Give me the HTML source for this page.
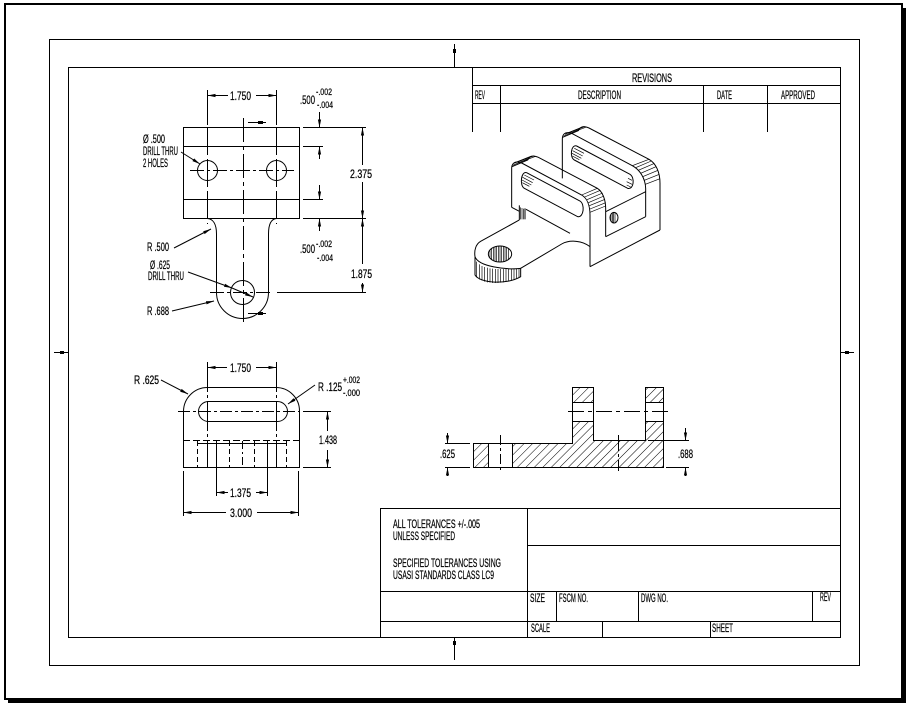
<!DOCTYPE html>
<html><head><meta charset="utf-8"><style>
html,body{margin:0;padding:0;background:#fff;}
svg{display:block;}
text{font-family:"Liberation Sans Narrow","Liberation Sans",sans-serif;font-size:12px;fill:#000;stroke:#000;stroke-width:0.25;}
.s{font-size:9.5px;}
</style></head><body>
<svg width="908" height="704" viewBox="0 0 908 704" xmlns="http://www.w3.org/2000/svg">
<defs>
<marker id="ar" markerUnits="userSpaceOnUse" markerWidth="8" markerHeight="4" refX="8" refY="2" orient="auto" viewBox="0 0 8 4"><path d="M0,0.4 L8,2 L0,3.6 Z" fill="#000"/></marker>
<pattern id="h" patternUnits="userSpaceOnUse" width="6" height="6" patternTransform="rotate(45)"><line x1="0" y1="0" x2="0" y2="6" stroke="#000" stroke-width="1"/></pattern>
<clipPath id="lh"><ellipse cx="120" cy="402" rx="34" ry="23"/></clipPath>
</defs>
<rect width="908" height="704" fill="#fff"/>
<!-- frames -->
<rect x="5" y="4" width="897" height="695" fill="none" stroke="#000" stroke-width="2"/>
<rect x="902" y="8" width="4" height="695" fill="#000"/>
<rect x="8" y="699" width="898" height="4" fill="#000"/>
<g fill="none" stroke="#000" stroke-width="1">
<rect x="49.5" y="39.5" width="810" height="626"/>
<rect x="68.5" y="67.5" width="772" height="570"/>
<line x1="454.5" y1="44" x2="454.5" y2="67"/>
<line x1="54" y1="352.5" x2="68" y2="352.5"/>
<line x1="840" y1="352.5" x2="854" y2="352.5"/>
<line x1="454.5" y1="637" x2="454.5" y2="660"/>
</g>
<g fill="#000">
<rect x="453" y="49" width="3" height="4"/><rect x="60" y="351" width="4" height="3"/>
<rect x="845" y="351" width="4" height="3"/><rect x="453" y="641" width="3" height="4"/>
</g>

<!-- revisions table -->
<g fill="none" stroke="#000" stroke-width="1">
<line x1="472.5" y1="67" x2="472.5" y2="132"/>
<line x1="472" y1="85.5" x2="840" y2="85.5"/>
<line x1="472" y1="103.5" x2="840" y2="103.5"/>
<line x1="500.5" y1="85" x2="500.5" y2="132"/>
<line x1="703.5" y1="85" x2="703.5" y2="132"/>
<line x1="767.5" y1="85" x2="767.5" y2="132"/>
</g>
<text x="632" y="82" textLength="40" lengthAdjust="spacingAndGlyphs">REVISIONS</text>
<text x="475" y="99" textLength="10" lengthAdjust="spacingAndGlyphs">REV</text>
<text x="578" y="99" textLength="43" lengthAdjust="spacingAndGlyphs">DESCRIPTION</text>
<text x="717" y="99" textLength="15" lengthAdjust="spacingAndGlyphs">DATE</text>
<text x="781" y="99" textLength="34" lengthAdjust="spacingAndGlyphs">APPROVED</text>

<!-- title block -->
<g fill="none" stroke="#000" stroke-width="1">
<line x1="380" y1="508.5" x2="840" y2="508.5"/>
<line x1="380.5" y1="508" x2="380.5" y2="637"/>
<line x1="527.5" y1="508" x2="527.5" y2="637"/>
<line x1="527" y1="545.5" x2="840" y2="545.5"/>
<line x1="380" y1="591.5" x2="840" y2="591.5"/>
<line x1="380" y1="621.5" x2="840" y2="621.5"/>
<line x1="556.5" y1="591" x2="556.5" y2="621"/>
<line x1="638.5" y1="591" x2="638.5" y2="621"/>
<line x1="812.5" y1="591" x2="812.5" y2="621"/>
<line x1="602.5" y1="621" x2="602.5" y2="637"/>
<line x1="710.5" y1="621" x2="710.5" y2="637"/>
</g>
<text x="393" y="528" textLength="87" lengthAdjust="spacingAndGlyphs">ALL TOLERANCES +/-.005</text>
<text x="393" y="540" textLength="62" lengthAdjust="spacingAndGlyphs">UNLESS SPECIFIED</text>
<text x="393" y="567" textLength="108" lengthAdjust="spacingAndGlyphs">SPECIFIED TOLERANCES USING</text>
<text x="393" y="579" textLength="101" lengthAdjust="spacingAndGlyphs">USASI STANDARDS CLASS LC9</text>
<text x="530" y="602" textLength="15" lengthAdjust="spacingAndGlyphs">SIZE</text>
<text x="559" y="602" textLength="29" lengthAdjust="spacingAndGlyphs">FSCM NO.</text>
<text x="641" y="602" textLength="27" lengthAdjust="spacingAndGlyphs">DWG NO.</text>
<text x="820" y="601" textLength="11" lengthAdjust="spacingAndGlyphs">REV</text>
<text x="531" y="632" textLength="19" lengthAdjust="spacingAndGlyphs">SCALE</text>
<text x="712" y="632" textLength="21" lengthAdjust="spacingAndGlyphs">SHEET</text>

<!-- TOP VIEW -->
<g fill="none" stroke="#000" stroke-width="1">
<rect x="183.5" y="127.5" width="116" height="91"/>
<line x1="183" y1="146.5" x2="299" y2="146.5"/>
<line x1="183" y1="199.5" x2="299" y2="199.5"/>
<circle cx="207.5" cy="170.5" r="10"/>
<circle cx="276.5" cy="170.5" r="10"/>
<line x1="190" y1="170.5" x2="294" y2="170.5" stroke-dasharray="14 3 3 3"/>
<line x1="207.5" y1="90" x2="207.5" y2="125"/>
<line x1="276.5" y1="90" x2="276.5" y2="125"/>
<line x1="207.5" y1="127" x2="207.5" y2="224" stroke-dasharray="28 4"/>
<line x1="276.5" y1="127" x2="276.5" y2="224" stroke-dasharray="28 4"/>
<line x1="243.5" y1="118" x2="243.5" y2="324" stroke-dasharray="24 4 4 4"/>
<path d="M207.5,218.5 C213,219 216.5,224 216.5,234 L216.5,292.5 A26,26 0 0 0 268.5,292.5 L268.5,234 C268.5,224 271,219 276.5,218.5"/>
<circle cx="242.5" cy="292.5" r="12"/>
<line x1="210" y1="292.5" x2="273" y2="292.5" stroke-dasharray="14 3 3 3"/>
<line x1="277" y1="292.5" x2="366" y2="292.5"/>
<line x1="303" y1="127.5" x2="366" y2="127.5"/>
<line x1="303" y1="218.5" x2="366" y2="218.5"/>
<line x1="303" y1="146.5" x2="323" y2="146.5"/>
<line x1="303" y1="199.5" x2="323" y2="199.5"/>
<line x1="248" y1="122.5" x2="266" y2="122.5"/>
<line x1="248" y1="313.5" x2="266" y2="313.5"/>
</g>
<g fill="none" stroke="#000" stroke-width="1" marker-end="url(#ar)">
<line x1="228" y1="95.5" x2="207.5" y2="95.5"/>
<line x1="256" y1="95.5" x2="276.5" y2="95.5"/>
<line x1="362.5" y1="165" x2="362.5" y2="127.5"/>
<line x1="362.5" y1="182" x2="362.5" y2="218.5"/>
<line x1="362.5" y1="264" x2="362.5" y2="218.5"/>
<line x1="362.5" y1="283" x2="362.5" y2="292.5"/>
<line x1="319.5" y1="112" x2="319.5" y2="127.5"/>
<line x1="319.5" y1="159" x2="319.5" y2="146.5"/>
<line x1="319.5" y1="185" x2="319.5" y2="199.5"/>
<line x1="319.5" y1="231" x2="319.5" y2="218.5"/>
<line x1="181" y1="152" x2="200" y2="164"/>
<line x1="174" y1="248" x2="211" y2="229"/>
<line x1="188" y1="272" x2="232" y2="288"/>
<line x1="232" y1="288" x2="253" y2="297"/>
<line x1="172" y1="311" x2="214" y2="301"/>
</g>
<g fill="#000"><rect x="258" y="121" width="5" height="3"/><rect x="258" y="312" width="5" height="3"/></g>
<text x="230" y="100" textLength="21" lengthAdjust="spacingAndGlyphs">1.750</text>
<text x="300" y="104" textLength="15" lengthAdjust="spacingAndGlyphs">.500</text>
<text class="s" x="316" y="95" textLength="16" lengthAdjust="spacingAndGlyphs">-.002</text>
<text class="s" x="317" y="108" textLength="16" lengthAdjust="spacingAndGlyphs">-.004</text>
<text x="300" y="253" textLength="15" lengthAdjust="spacingAndGlyphs">.500</text>
<text class="s" x="316" y="247" textLength="16" lengthAdjust="spacingAndGlyphs">-.002</text>
<text class="s" x="317" y="261" textLength="16" lengthAdjust="spacingAndGlyphs">-.004</text>
<text x="350" y="178" textLength="22" lengthAdjust="spacingAndGlyphs">2.375</text>
<text x="351" y="278" textLength="21" lengthAdjust="spacingAndGlyphs">1.875</text>
<text x="143" y="143" textLength="22" lengthAdjust="spacingAndGlyphs">Ø .500</text>
<text x="143" y="155" textLength="35" lengthAdjust="spacingAndGlyphs">DRILL THRU</text>
<text x="143" y="167" textLength="25" lengthAdjust="spacingAndGlyphs">2 HOLES</text>
<text x="147" y="251" textLength="22" lengthAdjust="spacingAndGlyphs">R .500</text>
<text x="150" y="269" textLength="20" lengthAdjust="spacingAndGlyphs">Ø .625</text>
<text x="148" y="280" textLength="36" lengthAdjust="spacingAndGlyphs">DRILL THRU</text>
<text x="147" y="315" textLength="22" lengthAdjust="spacingAndGlyphs">R .688</text>

<!-- FRONT VIEW -->
<g fill="none" stroke="#000" stroke-width="1">
<path d="M183.5,467.5 L183.5,411 A24,24 0 0 1 207.5,387.5 L276,387.5 A23.5,23.5 0 0 1 299.5,411 L299.5,467.5 Z"/>
<rect x="198.5" y="401.5" width="89" height="20" rx="10" ry="10"/>
<line x1="178" y1="411.5" x2="300" y2="411.5" stroke-dasharray="12 3 3 3"/>
<line x1="303" y1="411.5" x2="331" y2="411.5"/>
<line x1="183" y1="440.5" x2="300" y2="440.5" stroke-dasharray="7 3"/>
<line x1="197" y1="443.5" x2="287" y2="443.5"/>
<line x1="197.5" y1="441" x2="197.5" y2="467" stroke-dasharray="5 3"/>
<line x1="229.5" y1="441" x2="229.5" y2="467" stroke-dasharray="5 3"/>
<line x1="254.5" y1="441" x2="254.5" y2="467" stroke-dasharray="5 3"/>
<line x1="286.5" y1="441" x2="286.5" y2="467" stroke-dasharray="5 3"/>
<line x1="242.5" y1="441" x2="242.5" y2="467" stroke-dasharray="8 3 2 3"/>
<line x1="207.5" y1="362" x2="207.5" y2="467" stroke-dasharray="30 3 3 3"/>
<line x1="276.5" y1="362" x2="276.5" y2="467" stroke-dasharray="30 3 3 3"/>
<line x1="216.5" y1="441" x2="216.5" y2="496"/>
<line x1="267.5" y1="441" x2="267.5" y2="496"/>
<line x1="183.5" y1="471" x2="183.5" y2="516"/>
<line x1="298.5" y1="471" x2="298.5" y2="516"/>
<line x1="303" y1="467.5" x2="331" y2="467.5"/>
</g>
<g fill="none" stroke="#000" stroke-width="1" marker-end="url(#ar)">
<line x1="227" y1="367.5" x2="207.5" y2="367.5"/>
<line x1="256" y1="367.5" x2="276.5" y2="367.5"/>
<line x1="327.5" y1="431" x2="327.5" y2="411.5"/>
<line x1="327.5" y1="450" x2="327.5" y2="467.5"/>
<line x1="228" y1="492.5" x2="216.5" y2="492.5"/>
<line x1="256" y1="492.5" x2="267.5" y2="492.5"/>
<line x1="226" y1="512.5" x2="183.5" y2="512.5"/>
<line x1="257" y1="512.5" x2="298.5" y2="512.5"/>
<line x1="161" y1="380" x2="188" y2="394"/>
<line x1="315" y1="385" x2="288" y2="404"/>
</g>
<text x="230" y="372" textLength="21" lengthAdjust="spacingAndGlyphs">1.750</text>
<text x="134" y="384" textLength="25" lengthAdjust="spacingAndGlyphs">R .625</text>
<text x="318" y="391" textLength="24" lengthAdjust="spacingAndGlyphs">R .125</text>
<text class="s" x="343" y="383" textLength="17" lengthAdjust="spacingAndGlyphs">+.002</text>
<text class="s" x="343" y="396" textLength="17" lengthAdjust="spacingAndGlyphs">-.000</text>
<text x="319" y="444" textLength="18" lengthAdjust="spacingAndGlyphs">1.438</text>
<text x="230" y="497" textLength="21" lengthAdjust="spacingAndGlyphs">1.375</text>
<text x="230" y="517" textLength="22" lengthAdjust="spacingAndGlyphs">3.000</text>

<!-- SECTION VIEW -->
<path d="M473.5,443.5 L488.5,443.5 L488.5,467.5 L473.5,467.5 Z" fill="url(#h)" stroke="none"/>
<path d="M512.5,443.5 L572.5,443.5 L572.5,387.5 L593.5,387.5 L593.5,440.5 L645.5,440.5 L645.5,387.5 L663.5,387.5 L663.5,467.5 L512.5,467.5 Z" fill="url(#h)" stroke="none"/>
<rect x="572" y="402" width="22" height="20" fill="#fff"/>
<rect x="645" y="402" width="19" height="20" fill="#fff"/>
<g fill="none" stroke="#000" stroke-width="1">
<path d="M473.5,443.5 L572.5,443.5 L572.5,387.5 L593.5,387.5 L593.5,440.5 L645.5,440.5 L645.5,387.5 L663.5,387.5 L663.5,467.5 L473.5,467.5 Z"/>
<line x1="488.5" y1="443" x2="488.5" y2="467"/>
<line x1="512.5" y1="443" x2="512.5" y2="467"/>
<line x1="572" y1="402.5" x2="593" y2="402.5"/>
<line x1="572" y1="421.5" x2="593" y2="421.5"/>
<line x1="645" y1="402.5" x2="663" y2="402.5"/>
<line x1="645" y1="421.5" x2="663" y2="421.5"/>
<line x1="568" y1="411.5" x2="669" y2="411.5" stroke-dasharray="16 4 4 4"/>
<line x1="500.5" y1="435" x2="500.5" y2="473" stroke-dasharray="10 3 3 3"/>
<line x1="618.5" y1="435" x2="618.5" y2="471" stroke-dasharray="16 3 3 3"/>
<line x1="445" y1="443.5" x2="470" y2="443.5"/>
<line x1="445" y1="467.5" x2="470" y2="467.5"/>
<line x1="648" y1="440.5" x2="689" y2="440.5"/>
<line x1="666" y1="467.5" x2="689" y2="467.5"/>
</g>
<g fill="none" stroke="#000" stroke-width="1" marker-end="url(#ar)">
<line x1="447.5" y1="433" x2="447.5" y2="443.5"/>
<line x1="447.5" y1="476" x2="447.5" y2="467.5"/>
<line x1="685.5" y1="428" x2="685.5" y2="440.5"/>
<line x1="685.5" y1="476" x2="685.5" y2="467.5"/>
</g>
<text x="440" y="458" textLength="15" lengthAdjust="spacingAndGlyphs">.625</text>
<text x="678" y="458" textLength="15" lengthAdjust="spacingAndGlyphs">.688</text>

<!-- ISOMETRIC VIEW -->
<g transform="translate(460,120) scale(0.33333)" fill="none" stroke="#000" stroke-width="3">
<!-- back plate -->
<path d="M307,175 L307,57 C307,44 314,38 324,38 C328,38 332,39 337,41 L517,137 C540,150 556,175 557,205 L557,290"/>
<path d="M308,52 L355,32 C359,24 365,20 372,20 C377,20 382,22 387,24 L567,118 C588,130 600,157 600,190 L600,330"/>
<path d="M350,78 L510,163 C525,172 522,210 503,205 L343,120 C328,112 333,72 350,78 Z"/>
<g stroke-width="2">
<line x1="311" y1="48" x2="358" y2="28"/><line x1="315" y1="43" x2="362" y2="24"/><line x1="320" y1="40" x2="367" y2="21"/><line x1="326" y1="38" x2="374" y2="20"/><line x1="332" y1="39" x2="380" y2="21"/>
<line x1="517" y1="137" x2="567" y2="118"/><line x1="527" y1="143" x2="574" y2="123"/><line x1="535" y1="151" x2="581" y2="131"/><line x1="542" y1="160" x2="588" y2="140"/><line x1="548" y1="170" x2="594" y2="151"/><line x1="553" y1="181" x2="598" y2="163"/><line x1="556" y1="193" x2="600" y2="176"/>
<line x1="338" y1="92" x2="368" y2="108"/><line x1="336" y1="100" x2="364" y2="115"/><line x1="337" y1="108" x2="358" y2="119"/><line x1="343" y1="85" x2="372" y2="100"/>
<line x1="504" y1="175" x2="516" y2="181"/><line x1="500" y1="185" x2="516" y2="193"/><line x1="500" y1="195" x2="512" y2="201"/>
</g>
<!-- front plate -->
<path d="M155,262 L155,145 C155,132 162,126 172,126 C176,126 180,127 185,129 L365,225 C382,235 390,258 390,285 L390,440"/>
<path d="M156,140 L203,120 C207,112 213,108 220,108 C225,108 230,110 235,112 L412,205 C428,215 437,240 437,265 L437,350"/>
<path d="M200,158 L360,243 C375,252 372,293 353,290 L193,205 C178,197 183,152 200,158 Z"/>
<g stroke-width="2">
<line x1="158" y1="136" x2="205" y2="116"/><line x1="162" y1="130" x2="209" y2="111"/><line x1="167" y1="127" x2="214" y2="108"/><line x1="173" y1="126" x2="221" y2="108"/><line x1="179" y1="127" x2="227" y2="109"/>
<line x1="365" y1="225" x2="412" y2="205"/><line x1="374" y1="231" x2="421" y2="211"/><line x1="381" y1="239" x2="428" y2="219"/><line x1="385" y1="248" x2="432" y2="228"/><line x1="388" y1="257" x2="435" y2="238"/><line x1="390" y1="267" x2="437" y2="248"/><line x1="390" y1="277" x2="437" y2="258"/>
<line x1="188" y1="172" x2="218" y2="188"/><line x1="186" y1="180" x2="214" y2="195"/><line x1="187" y1="188" x2="208" y2="199"/><line x1="193" y1="165" x2="222" y2="180"/>
</g>
<!-- base between plates -->
<path d="M437,350 L557,290"/>
<path d="M437,275 L557,215"/>
<ellipse cx="462" cy="293" rx="12" ry="16"/>
<g stroke-width="2">
<line x1="453" y1="282" x2="453" y2="304"/><line x1="457" y1="279" x2="457" y2="307"/><line x1="461" y1="278" x2="461" y2="308"/><line x1="465" y1="279" x2="465" y2="306"/>
</g>
<!-- base/lug -->
<path d="M155,262 L178,274"/>
<path d="M178,256 L178,300"/>
<path d="M195,265 L195,298"/>
<g stroke-width="2"><line x1="182" y1="262" x2="182" y2="298"/><line x1="186" y1="264" x2="186" y2="298"/><line x1="190" y1="266" x2="190" y2="298"/></g>
<path d="M198,268 L330,340"/>
<path d="M178,300 L62,364 C48,372 42,390 45,410 L45,465 C60,490 140,495 182,470 L182,445 L305,372 C330,358 368,362 390,380"/>
<path d="M45,410 C55,440 140,450 182,445"/>
<path d="M390,440 L600,330"/>
<ellipse cx="120" cy="402" rx="35" ry="24"/>
<g stroke-width="2" clip-path="url(#lh)">
<line x1="90" y1="375" x2="90" y2="430"/><line x1="95" y1="375" x2="95" y2="430"/><line x1="100" y1="375" x2="100" y2="430"/><line x1="105" y1="375" x2="105" y2="430"/><line x1="110" y1="375" x2="110" y2="430"/><line x1="115" y1="375" x2="115" y2="430"/><line x1="120" y1="375" x2="120" y2="430"/><line x1="125" y1="375" x2="125" y2="430"/><line x1="130" y1="375" x2="130" y2="430"/><line x1="135" y1="375" x2="135" y2="430"/><line x1="140" y1="375" x2="140" y2="430"/><line x1="145" y1="375" x2="145" y2="430"/>
</g>
<g stroke-width="2">
<line x1="50" y1="425" x2="50" y2="472"/><line x1="58" y1="433" x2="58" y2="478"/><line x1="66" y1="438" x2="66" y2="482"/><line x1="74" y1="441" x2="74" y2="485"/><line x1="82" y1="443" x2="82" y2="487"/><line x1="90" y1="445" x2="90" y2="488"/><line x1="98" y1="446" x2="98" y2="489"/><line x1="106" y1="447" x2="106" y2="489"/><line x1="114" y1="447" x2="114" y2="489"/><line x1="122" y1="447" x2="122" y2="488"/><line x1="130" y1="447" x2="130" y2="487"/><line x1="138" y1="447" x2="138" y2="486"/><line x1="146" y1="447" x2="146" y2="484"/><line x1="154" y1="446" x2="154" y2="482"/><line x1="162" y1="446" x2="162" y2="479"/><line x1="170" y1="445" x2="170" y2="476"/><line x1="177" y1="445" x2="177" y2="472"/>
</g>
</g>
</svg>
</body></html>
